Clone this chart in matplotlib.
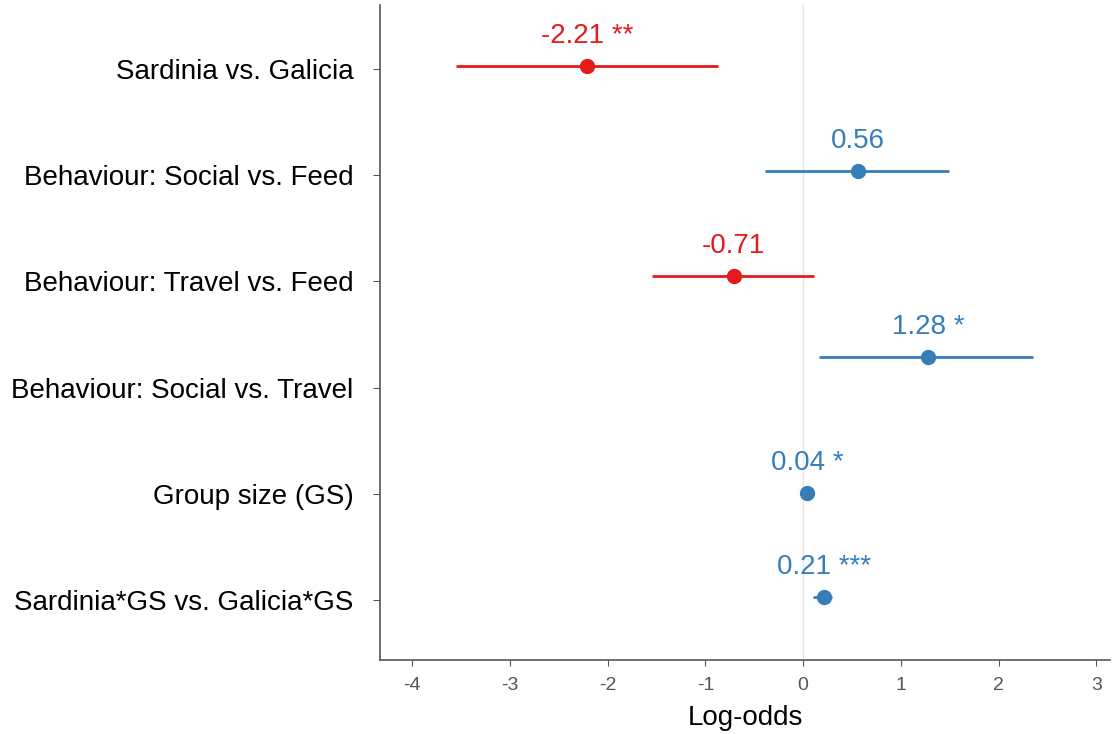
import numpy as np
import matplotlib.pyplot as plt

plt.rcParams['font.family'] = ['Liberation Sans', 'DejaVu Sans']

terms = ['Sardinia vs. Galicia', 'Behaviour: Social vs. Feed', 'Behaviour: Travel vs. Feed',
         'Behaviour: Social vs. Travel', 'Group size (GS)', 'Sardinia*GS vs. Galicia*GS']
est = [-2.21, 0.56, -0.71, 1.28, 0.04, 0.21]
lo = [-3.55, -0.39, -1.55, 0.16, 0.00, 0.10]
hi = [-0.87, 1.49, 0.11, 2.35, 0.08, 0.30]
stars = ['**', '', '', '*', '*', '***']

red = '#e41a1c'
blue = '#377eb8'

fig = plt.figure(figsize=(11.12, 7.34), dpi=100)
ax = fig.add_axes([380/1112, 74/734, 730/1112, 655/734])

ypos = np.arange(len(terms))[::-1] + 1
# the original figure has the rows nudged a bit above their ticks
shift = [0.03, 0.04, 0.05, 0.29, 0.01, 0.03]
ax.axvline(0, color='#e6e6e6', lw=1, zorder=0)
for y, d, e, l, h, s in zip(ypos, shift, est, lo, hi, stars):
    c = red if e < 0 else blue
    yy = y + d
    ax.plot([l, h], [yy, yy], color=c, lw=2, solid_capstyle='butt')
    ax.plot(e, yy, 'o', color=c, ms=10)
    txt = '%.2f' % e + (' ' + s if s else '')
    ax.text(e, yy + 0.16, txt, color=c, fontsize=20, ha='center', va='bottom')

ax.set_xlim(-4.33, 3.14)
ax.set_ylim(0.44, 6.6)
ax.set_xticks(np.arange(-4, 4))
ax.set_xticklabels([str(v) for v in range(-4, 4)])
ax.set_yticks(ypos)
ax.set_yticklabels(terms, fontsize=20)
ax.tick_params(axis='x', colors='#555555', labelsize=14, length=4, pad=8)
ax.tick_params(axis='y', colors='#555555', labelcolor='black', length=5, pad=14)
ax.set_xlabel('Log-odds', fontsize=20, labelpad=8)
for sp in ['top', 'right']:
    ax.spines[sp].set_visible(False)
for sp in ['left', 'bottom']:
    ax.spines[sp].set_color('#555555')
    ax.spines[sp].set_linewidth(1.2)

fig.savefig('out.png', dpi=100)
